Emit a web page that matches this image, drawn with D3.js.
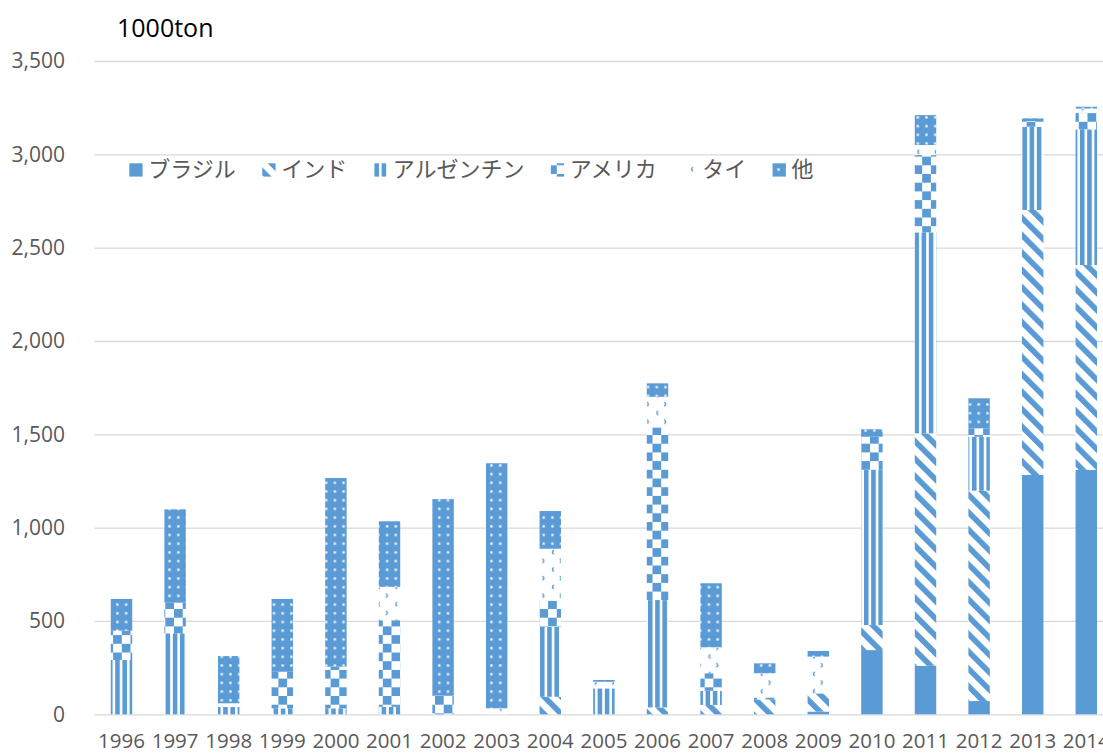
<!DOCTYPE html>
<html><head><meta charset="utf-8">
<script src="https://cdn.jsdelivr.net/npm/d3@7"></script>
<style>body{margin:0;background:#fff}svg{display:block}</style>
</head><body>
<svg id="c" width="1103" height="754"></svg>
<script>
// ---- data (1000 ton) ----
const years     = ["1996","1997","1998","1999","2000","2001","2002","2003","2004","2005","2006","2007","2008","2009","2010","2011","2012","2013","2014"];
const brazil    = [0,0,0,0,0,0,0,0,0,0,0,0,0,15,344,260,71,1282,1309];
const india     = [0,0,0,0,0,0,0,0,94,0,37,50,80,97,134,1245,1127,1420,1098];
const argentina = [291,434,40,32,32,40,0,0,375,139,575,76,0,0,831,1077,289,446,727];
const usa       = [157,164,0,196,223,464,100,0,140,0,925,94,10,0,178,414,45,30,89];
const thai      = [0,0,19,0,0,179,0,32,278,35,164,139,130,197,0,54,0,0,22];
const other     = [170,500,253,390,1011,351,1053,1313,202,10,72,343,53,30,40,160,161,15,10];
const seriesNames = ["ブラジル","インド","アルゼンチン","アメリカ","タイ","他"];
const yTicks    = [0,500,1000,1500,2000,2500,3000,3500];
const unitLabel = "1000ton";

const seriesValues = [brazil, india, argentina, usa, thai, other];
const rows = years.map((yr, i) => {
  const r = {year: yr};
  seriesNames.forEach((s, k) => r[s] = seriesValues[k][i]);
  return r;
});

const BLUE = "#5B9BD5", TXT = "#595959", GRID = "#d9d9d9";
const NUMFONT = "'Open Sans', sans-serif";
const JPFONT = "'Noto Sans CJK JP', sans-serif";

const svg = d3.select("#c");
const defs = svg.append("defs");

// ---- fill patterns ----
function pat(id, w, h, bg, transform) {
  const p = defs.append("pattern").attr("id", id)
    .attr("patternUnits", "userSpaceOnUse").attr("width", w).attr("height", h);
  if (transform) p.attr("patternTransform", transform);
  p.append("rect").attr("width", w).attr("height", h).attr("fill", bg);
  return p;
}
// India: wide downward diagonal
pat("p1", 12.3, 12.3, "#fff", "rotate(-45)")
  .append("rect").attr("width", 5.6).attr("height", 12.3).attr("fill", BLUE);
// Argentina: vertical stripes
pat("p2", 7.2, 10, "#fff").append("rect").attr("width", 4.6).attr("height", 10).attr("fill", BLUE);
// USA: large checkerboard
{
  const p = pat("p3", 17.4, 17.4, "#fff");
  p.append("rect").attr("width", 8.7).attr("height", 8.7).attr("fill", BLUE);
  p.append("rect").attr("x", 8.7).attr("y", 8.7).attr("width", 8.7).attr("height", 8.7).attr("fill", BLUE);
}
// Thailand: divot
{
  const p = pat("p4", 17.4, 17.4, "#fff");
  p.append("path").attr("d", "M3,2 Q6,4 3,6").attr("fill", "none").attr("stroke", BLUE).attr("stroke-width", 1.4);
  p.append("path").attr("d", "M14.5,10.7 Q11.5,12.7 14.5,14.7").attr("fill", "none").attr("stroke", BLUE).attr("stroke-width", 1.4);
}
// Other: dotted (white dots on blue)
pat("p5", 8.7, 8.7, BLUE).append("rect").attr("x", 3.2).attr("y", 3.2).attr("width", 2.2).attr("height", 2.2).attr("fill", "#fff");

const fills = [BLUE, "url(#p1)", "url(#p2)", "url(#p3)", "url(#p4)", "url(#p5)"];

// ---- scales ----
const x = d3.scaleBand().domain(years).range([94.7, 1113.1]).paddingInner(0.6).paddingOuter(0.3);
const y = d3.scaleLinear().domain([0, 3500]).range([714.3, 61]);

// ---- y axis with gridlines ----
const yAxis = svg.append("g").attr("transform", "translate(94.7,0)")
  .call(d3.axisLeft(y).tickValues(yTicks).tickFormat(d3.format(","))
    .tickSize(-(1113.1 - 94.7)).tickPadding(29.7));
yAxis.select(".domain").remove();
yAxis.selectAll(".tick line").attr("stroke", GRID).attr("stroke-width", 1.3);
yAxis.selectAll(".tick text").attr("fill", TXT).style("font-family", NUMFONT).style("font-size", "21px");

// ---- stacked bars ----
const stack = d3.stack().keys(seriesNames)(rows);
svg.append("g").selectAll("g").data(stack).join("g")
  .attr("fill", (d, i) => fills[i])
  .selectAll("rect").data(d => d.filter(p => p[1] - p[0] > 0)).join("rect")
  .attr("x", d => x(d.data.year))
  .attr("width", x.bandwidth())
  .attr("y", d => y(d[1]))
  .attr("height", d => y(d[0]) - y(d[1]));

// ---- x axis ----
const xAxis = svg.append("g").attr("transform", "translate(0,714.3)")
  .call(d3.axisBottom(x).tickSize(0));
xAxis.select(".domain").remove();
xAxis.selectAll(".tick text").attr("fill", TXT).attr("y", 33.5).attr("dy", 0)
  .style("font-family", NUMFONT).style("font-size", "20.5px");

// ---- unit label ----
svg.append("text").attr("x", 117).attr("y", 37).text(unitLabel)
  .attr("fill", "#000").style("font-family", NUMFONT).style("font-size", "25px");

// ---- legend ----
const legend = svg.append("g");
let lx = 129.3;
seriesNames.forEach((name, i) => {
  legend.append("rect").attr("x", lx).attr("y", 163.3).attr("width", 13.3).attr("height", 13.3).attr("fill", fills[i]);
  const t = legend.append("text").attr("x", lx + 19).attr("y", 176.5).text(name)
    .attr("fill", TXT).style("font-family", JPFONT).style("font-size", "22px");
  lx += 19 + t.node().getComputedTextLength() + 26.4;
});
</script>
</body></html>
